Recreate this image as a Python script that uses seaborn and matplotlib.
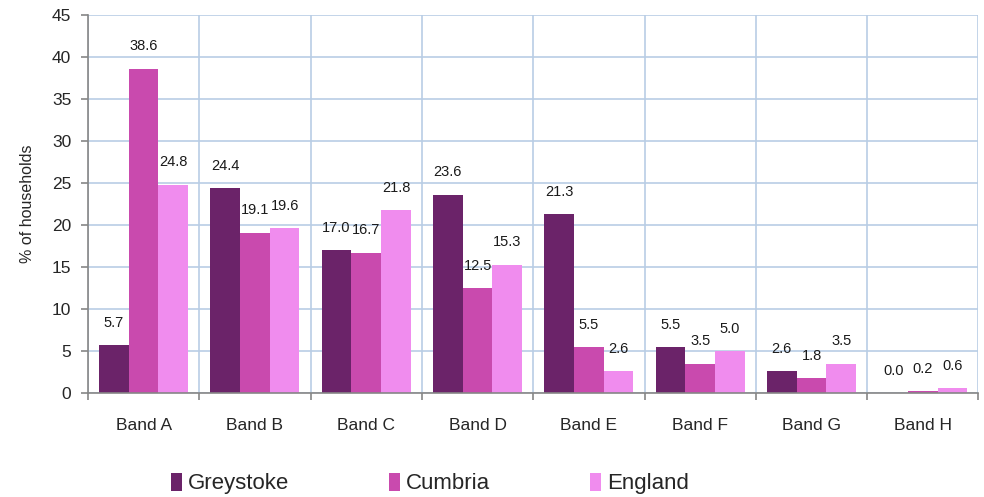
import pandas as pd
import matplotlib.pyplot as plt
import seaborn as sns
from matplotlib.ticker import MultipleLocator, FixedLocator

bands = ['Band A', 'Band B', 'Band C', 'Band D', 'Band E', 'Band F', 'Band G', 'Band H']
areas = ['Greystoke', 'Cumbria', 'England']
greystoke = [5.7, 24.4, 17.0, 23.6, 21.3, 5.5, 2.6, 0.0]
cumbria = [38.6, 19.1, 16.7, 12.5, 5.5, 3.5, 1.8, 0.2]
england = [24.8, 19.6, 21.8, 15.3, 2.6, 5.0, 3.5, 0.6]
colors = ['#6b2369', '#c94aae', '#f08cee']

rows = []
for area, vals in zip(areas, [greystoke, cumbria, england]):
    for b, v in zip(bands, vals):
        rows.append({'band': b, 'area': area, 'pct': v})
df = pd.DataFrame(rows)

sns.set_style('white')
plt.rcParams['font.family'] = ['Liberation Sans', 'DejaVu Sans']

fig = plt.figure(figsize=(9.84, 4.97), dpi=100)
ax = fig.add_axes([0.0894, 0.209, 0.905, 0.761])

sns.barplot(data=df, x='band', y='pct', hue='area', order=bands, hue_order=areas,
            palette=colors, width=0.8, gap=0, saturation=1, edgecolor='none',
            errorbar=None, ax=ax)

for c in ax.containers:
    ax.bar_label(c, fmt='%.1f', padding=11, fontsize=10.5, color='#1a1a1a')

ax.set_ylim(0, 45)
ax.set_xlim(-0.5, len(bands) - 0.5)
ax.yaxis.set_major_locator(MultipleLocator(5))
ax.xaxis.set_minor_locator(FixedLocator([i + 0.5 for i in range(-1, len(bands))]))

grid_col = '#b9cde5'
ax.grid(axis='y', which='major', color=grid_col, linewidth=1.2)
ax.grid(axis='x', which='minor', color=grid_col, linewidth=1.2)
ax.grid(axis='x', which='major', visible=False)
ax.set_axisbelow(True)

for s in ['top', 'right']:
    ax.spines[s].set_visible(False)
for s in ['left', 'bottom']:
    ax.spines[s].set_color('#868686')
    ax.spines[s].set_linewidth(1.2)

ax.tick_params(axis='x', which='major', length=0, pad=18, labelsize=12.5)
ax.tick_params(axis='x', which='minor', length=5, color='#868686', width=1.2)
ax.tick_params(axis='y', length=5, color='#868686', width=1.2, labelsize=12.5, pad=7)
ax.tick_params(left=True, bottom=True)
ax.tick_params(axis='x', which='minor', bottom=True)

ax.set_xlabel('')
ax.set_ylabel('% of households', fontsize=11.5, labelpad=12)

ax.get_legend().remove()
handles, labels = ax.get_legend_handles_labels()
fig.legend(handles, labels, loc='lower center', bbox_to_anchor=(0.437, -0.035), ncol=3,
           frameon=False, fontsize=16, handlelength=0.5, handleheight=0.9,
           handletextpad=0.25, columnspacing=4.5)

fig.savefig('out.png', dpi=100)
